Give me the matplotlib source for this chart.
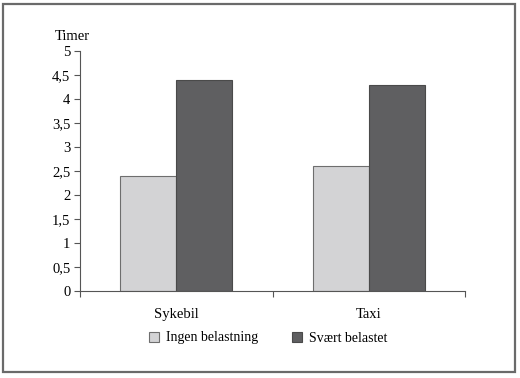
import matplotlib
matplotlib.use("Agg")
import matplotlib.pyplot as plt
from matplotlib.patches import Rectangle
import numpy as np

categories = ["Sykebil", "Taxi"]
series_names = ["Ingen belastning", "Svært belastet"]
ingen = [2.4, 2.6]
svaert = [4.4, 4.3]
yticks = [0, 0.5, 1, 1.5, 2, 2.5, 3, 3.5, 4, 4.5, 5]
ytick_labels = ["0", "0,5", "1", "1,5", "2", "2,5", "3", "3,5", "4", "4,5", "5"]

plt.rcParams['font.family'] = ['Liberation Serif', 'DejaVu Serif']
fig = plt.figure(figsize=(5.2, 3.78), dpi=100)
fig.patches.append(Rectangle((3/520, 6/378), 512/520, 368/378, transform=fig.transFigure,
                             fill=False, edgecolor='#6a6a6a', linewidth=1.6))
ax = fig.add_axes([80/520, 1-291/378, 385/520, 240/378])

x = np.arange(len(categories))
w = 0.29
ax.bar(x - w/2, ingen, w, color='#d3d3d5', edgecolor='#6e6e6e', linewidth=0.8, label=series_names[0])
ax.bar(x + w/2, svaert, w, color='#5f5f61', edgecolor='#4a4a4a', linewidth=0.8, label=series_names[1])

ax.set_xlim(-0.5, 1.5)
ax.set_ylim(0, 5)
ax.set_yticks(yticks)
ax.set_yticklabels(ytick_labels, fontsize=10.5)
ax.set_xticks([-0.5, 0.5, 1.5], minor=False)
ax.set_xticklabels([])
ax.set_xticks(x, minor=True)
ax.set_xticklabels(categories, minor=True, fontsize=10.5)
ax.tick_params(axis='x', which='minor', length=0, pad=12)
ax.tick_params(axis='x', which='major', length=4, direction='out', color='#555555')
ax.tick_params(axis='y', length=4, direction='out', color='#555555', pad=3)
for s in ['top', 'right']:
    ax.spines[s].set_visible(False)
for s in ['left', 'bottom']:
    ax.spines[s].set_color('#555555')
    ax.spines[s].set_linewidth(0.8)

fig.text(55/520, 1-36/378, "Timer", fontsize=10.5, va='center', ha='left')

leg = fig.legend(loc='center', bbox_to_anchor=(268/520, 1-338/378), ncol=2, frameon=False,
                 fontsize=10, handlelength=0.75, handleheight=0.75, columnspacing=2.4, handletextpad=0.5)

fig.savefig("out.png", dpi=100)
